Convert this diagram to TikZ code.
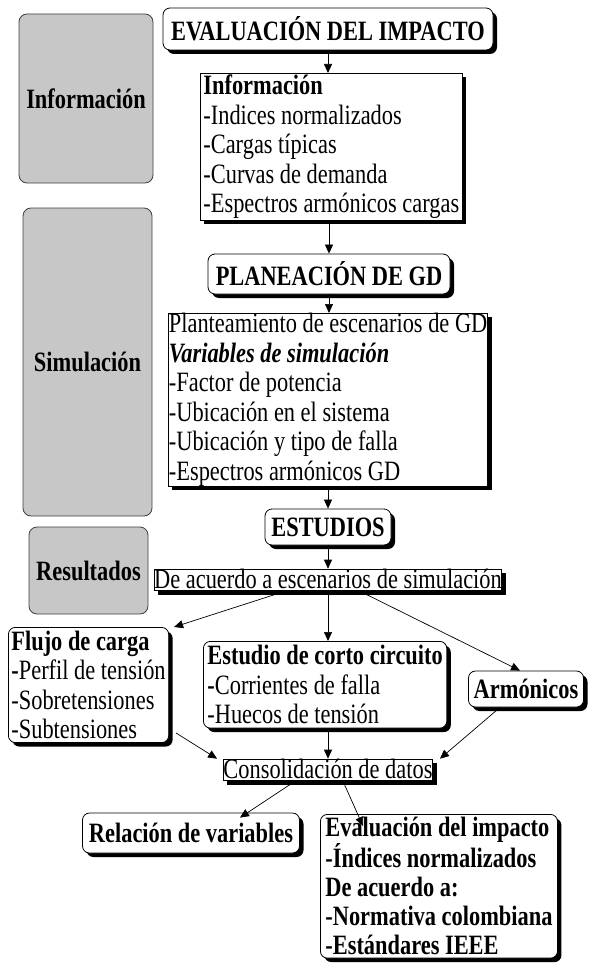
\documentclass[tikz,border=0pt]{standalone}
\usepackage{fontspec}
\setmainfont[FakeStretch=0.8]{Liberation Serif}
\usetikzlibrary{shadows}
\usetikzlibrary{arrows.meta}

\tikzset{
  caja/.style={draw, fill=white, line width=0.8pt,
    drop shadow={shadow xshift=4pt, shadow yshift=-4pt, fill=black, opacity=1}},
  redonda/.style={caja, rounded corners=7pt},
  lista/.style={align=left, anchor=north west},
  lateral/.style={draw=black!75, fill=black!22, rounded corners=8pt, line width=0.8pt},
  flecha/.style={-{Triangle[length=9pt,width=8pt]}, line width=0.7pt}
}

\begin{document}
\begin{tikzpicture}[x=1pt, y=-1pt, font=\fontsize{28}{29.5}\selectfont]
            \useasboundingbox (0,0) rectangle (589,963);

            % Side panels
            \node[lateral, minimum width=134pt, minimum height=169pt] (lat1) at (86,98.5) {\textbf{Información}};
            \node[lateral, minimum width=129pt, minimum height=308pt] (lat2) at (87.5,362) {\textbf{Simulación}};
            \node[lateral, minimum width=119pt, minimum height=87pt] (lat3) at (88.5,570.5) {\textbf{Resultados}};

            % Main column
            \node[redonda, minimum width=330pt, minimum height=42pt] (eval) at (328,29) {\textbf{EVALUACIÓN DEL IMPACTO}};
            \node[caja, lista, inner xsep=3pt, inner ysep=1.5pt] (info) at (200,73) {\textbf{Información}\\-Indices normalizados\\-Cargas típicas\\-Curvas de demanda\\-Espectros armónicos cargas};
            \node[redonda, minimum width=242pt, minimum height=40pt] (plan) at (329,274) {\textbf{PLANEACIÓN DE GD}};
            \node[caja, lista, inner xsep=0.5pt, inner ysep=0pt] (esce) at (168,313) {Planteamiento de escenarios de GD\\\textbf{\textit{Variables de simulación}}\\-Factor de potencia\\-Ubicación en el sistema\\-Ubicación y tipo de falla\\-Espectros armónicos GD};
            \node[redonda, minimum width=126pt, minimum height=36pt] (estu) at (328,527) {\textbf{ESTUDIOS}};
            \node[caja, inner sep=0pt] (acuerdo) at (328,580) {\underline{De acuerdo a escenarios de simulación}};

            % Studies
            \node[redonda, lista, inner xsep=3pt, inner ysep=3.5pt] (flujo) at (8,627) {\textbf{Flujo de carga}\\\textbf{-}Perfil de tensión\\-Sobretensiones\\-Subtensiones};
            \node[redonda, lista, inner xsep=4pt, inner ysep=4pt] (corto) at (203,641) {\textbf{Estudio de corto circuito}\\\textbf{-}Corrientes de falla\\-Huecos de tensión};
            \node[redonda, minimum width=115pt, minimum height=36pt] (armo) at (526,689) {\textbf{Armónicos}};
            \node[caja, inner sep=0pt] (conso) at (328,770) {\underline{Consolidación de datos}};

            % Outputs
            \node[redonda, minimum width=217pt, minimum height=40pt] (rela) at (191,833) {\textbf{Relación de variables}};
            \node[redonda, lista, inner xsep=5pt, inner ysep=3pt, font=\fontsize{28}{29}\selectfont\bfseries] (impac) at (320,814) {Evaluación del impacto\\-Índices normalizados\\De acuerdo a:\\-Normativa colombiana\\-Estándares IEEE};

            % Draw connectors
            \draw[flecha] (eval) -- (eval |- info.north);
            \draw[flecha] (info.south -| plan) -- (plan);
            \draw[flecha] (plan) -- (plan |- esce.north);
            \draw[flecha] (esce.south -| estu) -- (estu);
            \draw[flecha] (estu) -- (acuerdo);
            \draw[flecha] ([xshift=-43pt]acuerdo.south) -- ([xshift=5pt]flujo.north east);
            \draw[flecha] (acuerdo) -- (corto.north -| acuerdo);
            \draw[flecha] ([xshift=32pt]acuerdo.south) -- ([xshift=-6pt]armo.north);
            \draw[flecha] ([xshift=7pt,yshift=10pt]flujo.south east) -- ([xshift=-6pt]conso.north west);
            \draw[flecha] (corto.south -| conso) -- (conso);
            \draw[flecha] ([xshift=-26pt]armo.south) -- ([xshift=7pt]conso.north east);
            \draw[flecha] ([xshift=-33pt]conso.south) -- ([xshift=49pt,yshift=-5pt]rela.north);
            \draw[flecha] ([xshift=15pt]conso.south) -- ([xshift=43pt,yshift=-12pt]impac.north west);
        \end{tikzpicture}
\end{document}
